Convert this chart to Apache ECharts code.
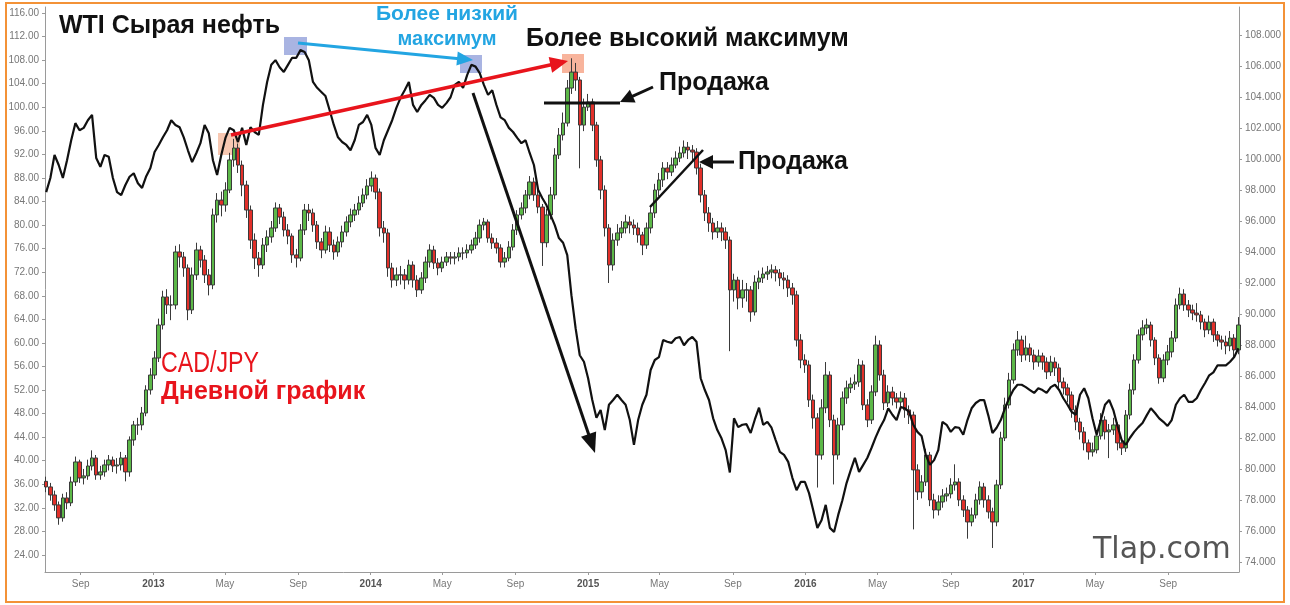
<!DOCTYPE html>
<html>
<head>
<meta charset="utf-8">
<script src="https://cdn.jsdelivr.net/npm/echarts@6/dist/echarts.min.js"></script>
<style>
html,body{margin:0;padding:0;background:#fff;}
#chart{width:1290px;height:605px;}
</style>
</head>
<body>
<div id="chart"></div>
<script>
// ---- DATA (weekly samples starting 2012-07-05) ----
const weekStart = [2012, 6, 5];

// WTI crude (left axis, USD)
const wtiOil = [
85.6, 88.0, 91.9, 90.2, 88.0, 91.0, 94.4, 97.3, 96.1, 96.5,
97.8, 98.7, 91.4, 89.9, 91.9, 91.6, 88.0, 85.6, 85.1, 86.8,
88.2, 88.8, 87.1, 86.3, 88.3, 89.7, 92.4, 93.6, 94.9, 96.1,
97.8, 97.0, 96.6, 94.9, 92.7, 90.7, 92.2, 93.9, 97.0, 95.6,
91.0, 88.5, 91.9, 94.8, 96.5, 96.1, 94.1, 96.5, 93.6, 96.6,
95.8, 95.3, 100.4, 104.3, 107.2, 108.0, 106.8, 106.0, 107.2, 108.4,
108.4, 109.7, 109.4, 108.0, 104.3, 103.3, 102.6, 101.9, 99.5, 97.0,
94.9, 94.1, 93.6, 92.7, 94.4, 97.0, 97.5, 98.7, 97.0, 93.1,
91.9, 94.4, 96.1, 97.8, 99.9, 101.6, 102.9, 104.3, 100.4, 99.2,
100.4, 101.2, 102.1, 101.6, 100.4, 99.9, 100.7, 101.7, 103.8, 104.3,
103.3, 105.5, 107.2, 106.9, 105.8, 103.8, 102.1, 102.9, 100.4, 98.3,
97.8, 96.5, 95.8, 94.8, 93.9, 94.4, 92.2, 90.2, 86.0, 84.6,
83.4, 81.7, 80.0, 77.8, 77.0, 74.9, 68.1, 62.5, 57.9, 56.8,
54.0, 50.3, 47.3, 48.6, 45.2, 49.5, 50.3, 51.2, 50.3, 49.5,
46.9, 42.7, 46.9, 49.5, 51.2, 55.4, 57.1, 57.6, 60.5, 60.2,
60.0, 60.8, 61.0, 59.6, 60.5, 61.0, 60.2, 54.0, 52.0, 50.3,
47.2, 45.2, 43.8, 41.8, 38.0, 47.2, 45.7, 46.1, 46.2, 44.7,
47.0, 49.0, 46.1, 46.6, 45.6, 43.5, 41.5, 41.0, 39.8, 37.1,
35.0, 36.4, 36.4, 34.5, 31.6, 28.6, 29.9, 32.5, 28.6, 27.9,
30.8, 33.3, 36.2, 38.4, 40.5, 38.1, 39.3, 40.5, 42.2, 44.0,
45.6, 46.9, 48.9, 47.8, 46.9, 49.1, 48.9, 48.3, 46.1, 44.9,
44.2, 41.0, 39.3, 40.1, 41.8, 46.6, 46.1, 44.9, 45.7, 45.6,
44.4, 46.9, 48.9, 49.8, 50.3, 50.3, 47.7, 44.7, 45.6, 46.9,
48.9, 50.6, 52.0, 52.9, 52.9, 52.5, 52.0, 51.5, 52.3, 52.0,
51.5, 52.5, 52.9, 52.0, 50.6, 49.5, 48.3, 47.8, 51.2, 52.3,
50.6, 47.2, 44.4, 46.9, 49.5, 50.3, 48.6, 45.9, 43.5, 42.7,
43.9, 44.9, 45.7, 46.4, 47.7, 48.9, 48.1, 47.2, 46.6, 45.9,
46.9, 49.5, 50.6, 51.2, 50.0, 50.0, 50.6, 52.0, 53.2, 54.5,
55.0, 56.2, 56.2, 56.2, 56.8, 57.6, 59.1
];

// CAD/JPY (right axis): [open, close, low, high]
const cadJpy = [
[79.20,78.84,78.50,79.50],[78.84,78.32,77.95,79.10],[78.32,77.68,77.30,78.60],[77.68,76.84,76.40,77.90],[76.84,78.13,76.60,78.40],
[78.13,77.81,77.40,78.50],[77.81,79.16,77.60,79.50],[79.16,80.45,78.90,80.80],[80.45,79.42,79.10,80.60],[79.42,79.55,79.00,80.00],
[79.55,80.19,79.30,80.60],[80.19,80.71,79.90,81.20],[80.71,79.61,79.30,80.90],[79.61,79.81,79.30,80.20],[79.81,80.26,79.50,80.60],
[80.26,80.58,79.90,80.90],[80.58,80.19,79.80,80.80],[80.19,80.26,79.70,80.70],[80.26,80.71,79.90,81.10],[80.71,79.81,79.20,80.90],
[79.81,81.87,79.50,82.10],[81.87,82.84,81.50,83.10],[82.84,82.84,82.20,83.30],[82.84,83.61,82.50,84.00],[83.61,85.10,83.40,85.40],
[85.10,86.06,84.80,86.50],[86.06,87.16,85.80,87.60],[87.16,89.29,86.90,89.70],[89.29,91.10,89.00,91.50],[91.10,90.58,90.00,91.60],
[90.58,90.58,89.60,91.20],[90.58,94.00,90.30,94.40],[94.00,93.68,93.00,94.50],[93.68,92.97,92.40,94.00],[92.97,90.26,89.60,93.20],
[90.26,92.52,90.00,93.00],[92.52,94.13,92.20,94.60],[94.13,93.48,93.00,94.40],[93.48,92.52,92.00,93.80],[92.52,91.87,91.20,92.90],
[91.87,96.39,91.60,96.80],[96.39,97.35,95.90,97.80],[97.35,97.03,96.30,97.90],[97.03,98.00,96.60,98.50],[98.00,99.94,97.80,100.40],
[99.94,100.71,99.50,101.30],[100.71,99.61,99.10,101.00],[99.61,98.32,97.60,99.90],[98.32,96.71,96.20,98.60],[96.71,94.77,94.20,97.00],
[94.77,93.61,92.90,95.20],[93.61,93.16,92.40,94.00],[93.16,94.45,92.90,94.90],[94.45,94.97,94.00,95.40],[94.97,95.55,94.60,96.00],
[95.55,96.84,95.30,97.20],[96.84,96.26,95.80,97.10],[96.26,95.42,95.00,96.60],[95.42,95.03,94.50,95.80],[95.03,93.81,93.30,95.20],
[93.81,93.61,93.00,94.20],[93.61,95.42,93.40,95.80],[95.42,96.71,95.10,97.10],[96.71,96.52,96.00,97.10],[96.52,95.74,95.30,96.80],
[95.74,94.65,94.20,96.00],[94.65,94.13,93.60,94.90],[94.13,95.29,93.90,95.70],[95.29,94.45,94.00,95.60],[94.45,94.00,93.50,94.80],
[94.00,94.65,93.70,95.00],[94.65,95.29,94.30,95.70],[95.29,95.94,95.00,96.30],[95.94,96.39,95.60,96.80],[96.39,96.71,96.00,97.10],
[96.71,97.16,96.40,97.60],[97.16,97.68,96.90,98.10],[97.68,98.26,97.40,98.70],[98.26,98.77,97.90,99.20],[98.77,97.87,97.40,99.00],
[97.87,95.55,95.00,98.10],[95.55,95.23,94.60,96.00],[95.23,92.97,92.40,95.50],[92.97,92.19,91.70,93.30],[92.19,92.52,91.80,93.00],
[92.52,92.52,91.90,93.10],[92.52,92.19,91.60,92.90],[92.19,93.16,91.90,93.50],[93.16,92.19,91.70,93.40],[92.19,91.55,91.10,92.50],
[91.55,92.32,91.30,92.70],[92.32,93.35,92.00,93.70],[93.35,94.13,93.00,94.50],[94.13,93.29,92.90,94.40],[93.29,92.97,92.50,93.60],
[92.97,93.35,92.70,93.70],[93.35,93.68,93.10,94.00],[93.68,93.61,93.20,94.00],[93.61,93.68,93.20,94.00],[93.68,93.94,93.40,94.30],
[93.94,93.94,93.50,94.30],[93.94,94.13,93.60,94.50],[94.13,94.45,93.90,94.80],[94.45,94.90,94.20,95.30],[94.90,95.74,94.60,96.10],
[95.74,95.94,95.40,96.20],[95.94,94.90,94.60,96.10],[94.90,94.58,94.20,95.20],[94.58,94.26,93.90,94.90],[94.26,93.35,93.00,94.50],
[93.35,93.61,93.00,94.00],[93.61,94.32,93.40,94.70],[94.32,95.42,94.10,95.80],[95.42,96.39,95.10,96.70],[96.39,96.84,96.10,97.20],
[96.84,97.68,96.50,98.00],[97.68,98.52,97.40,98.90],[98.52,97.68,97.30,98.80],[97.68,96.90,96.50,98.00],[96.90,94.60,93.10,97.10],
[94.60,96.39,94.30,96.80],[96.39,97.68,96.10,98.20],[97.68,100.26,97.40,100.70],[100.26,101.55,100.00,102.00],[101.55,102.32,101.20,103.00],
[102.32,104.58,102.10,105.10],[104.58,105.61,104.20,106.50],[105.61,105.10,104.40,106.20],[105.10,102.19,99.40,105.30],[102.19,103.35,101.80,103.90],
[103.35,103.68,103.10,104.20],[103.68,102.19,101.80,103.90],[102.19,99.94,99.50,102.40],[99.94,98.00,97.40,100.20],[98.00,95.55,95.00,98.30],
[95.55,93.16,92.00,95.80],[93.16,94.77,92.80,95.20],[94.77,95.23,94.40,95.80],[95.23,95.55,94.90,96.00],[95.55,95.94,95.20,96.40],
[95.94,95.74,95.20,96.30],[95.74,95.55,95.10,96.10],[95.55,95.10,94.60,95.90],[95.10,94.45,93.80,95.30],[94.45,95.55,94.20,95.90],
[95.55,96.52,95.20,96.90],[96.52,98.00,96.20,98.40],[98.00,98.65,97.60,99.10],[98.65,99.42,98.20,99.80],[99.42,99.16,98.70,99.80],
[99.16,99.61,98.90,100.10],[99.61,100.06,99.40,100.50],[100.06,100.39,99.80,100.80],[100.39,100.77,100.10,101.20],[100.77,100.58,100.00,101.10],
[100.58,100.45,99.90,100.90],[100.45,99.42,99.00,100.70],[99.42,97.68,97.20,99.70],[97.68,96.52,96.00,98.00],[96.52,95.87,95.30,96.90],
[95.87,95.29,94.80,96.20],[95.29,95.55,94.90,96.00],[95.55,95.29,94.70,95.90],[95.29,94.77,94.20,95.60],[94.77,91.55,87.60,95.00],
[91.55,92.19,90.80,92.60],[92.19,91.03,90.30,92.40],[91.03,91.55,90.40,92.20],[91.55,91.55,90.80,92.00],[91.55,90.13,89.50,91.80],
[90.13,92.06,89.90,92.50],[92.06,92.32,91.60,92.80],[92.32,92.58,92.00,93.00],[92.58,92.71,92.20,93.10],[92.71,92.84,92.30,93.20],
[92.84,92.65,92.10,93.10],[92.65,92.32,91.80,92.90],[92.32,92.19,91.60,92.70],[92.19,91.68,91.10,92.50],[91.68,91.23,90.60,92.00],
[91.23,88.32,87.90,91.50],[88.32,87.03,86.50,88.70],[87.03,86.71,86.20,87.40],[86.71,84.45,84.00,87.00],[84.45,83.29,82.60,84.80],
[83.29,80.90,78.80,83.60],[80.90,83.94,80.60,84.50],[83.94,86.06,83.60,86.90],[86.06,83.16,82.70,86.30],[83.16,80.90,79.00,83.50],
[80.90,82.84,80.60,83.30],[82.84,84.58,82.50,85.00],[84.58,85.23,84.20,85.70],[85.23,85.48,84.90,85.90],[85.48,85.61,85.10,86.10],
[85.61,86.71,85.30,87.10],[86.71,84.13,83.80,87.00],[84.13,83.16,82.70,84.50],[83.16,84.97,82.90,85.40],[84.97,88.00,84.70,88.60],
[88.00,86.06,85.70,88.30],[86.06,84.26,83.80,86.40],[84.26,84.97,84.00,85.40],[84.97,84.58,84.10,85.30],[84.58,84.32,83.90,84.90],
[84.32,84.58,84.00,85.00],[84.58,83.81,83.30,84.90],[83.81,83.48,82.90,84.10],[83.48,79.94,76.10,83.70],[79.94,78.52,78.00,80.30],
[78.52,79.16,78.10,79.60],[79.16,80.90,78.90,81.30],[80.90,78.00,77.60,81.10],[78.00,77.35,76.80,78.40],[77.35,77.87,77.00,78.30],
[77.87,78.26,77.50,78.70],[78.26,78.39,77.90,78.80],[78.39,78.97,78.10,79.40],[78.97,79.16,78.60,80.30],[79.16,78.00,77.60,79.40],
[78.00,77.35,76.90,78.30],[77.35,76.58,75.50,77.60],[76.58,77.03,76.30,77.50],[77.03,78.00,76.80,78.40],[78.00,78.84,77.70,79.20],
[78.84,78.00,77.50,79.10],[78.00,77.23,76.80,78.30],[77.23,76.58,74.90,77.50],[76.58,78.97,76.30,79.30],[78.97,82.00,78.70,82.40],
[82.00,84.13,81.80,84.60],[84.13,85.74,83.90,86.20],[85.74,87.68,85.50,88.10],[87.68,88.32,87.30,88.90],[88.32,87.35,86.90,88.60],
[87.35,87.81,87.00,88.60],[87.81,87.35,86.90,88.10],[87.35,86.90,86.40,87.70],[86.90,87.29,86.60,87.70],[87.29,86.90,86.40,87.50],
[86.90,86.26,85.80,87.20],[86.26,86.90,86.00,87.30],[86.90,86.52,86.00,87.20],[86.52,85.61,85.10,86.80],[85.61,85.23,84.80,85.90],
[85.23,84.77,84.30,85.50],[84.77,83.81,83.30,85.00],[83.81,83.03,82.50,84.10],[83.03,82.39,81.90,83.30],[82.39,81.68,81.20,82.70],
[81.68,81.10,80.60,81.90],[81.10,81.23,80.80,81.70],[81.23,82.13,81.00,82.50],[82.13,83.16,81.90,83.60],[83.16,82.39,81.90,83.40],
[82.39,82.52,80.70,82.90],[82.52,82.84,82.20,83.30],[82.84,81.68,81.20,83.00],[81.68,81.35,80.90,81.90],[81.35,83.48,81.10,83.80],
[83.48,85.10,83.20,85.50],[85.10,87.03,84.80,87.40],[87.03,88.65,86.80,89.00],[88.65,89.10,88.30,89.60],[89.10,89.29,88.70,89.70],
[89.29,88.32,87.90,89.50],[88.32,87.16,86.70,88.50],[87.16,85.87,85.50,87.40],[85.87,87.03,85.60,87.40],[87.03,87.55,86.70,88.00],
[87.55,88.45,87.20,88.90],[88.45,90.58,88.20,91.00],[90.58,91.29,90.30,91.70],[91.29,90.58,90.20,91.60],[90.58,90.26,89.80,90.90],
[90.26,90.06,89.60,90.60],[90.06,89.94,89.50,90.70],[89.94,89.48,89.00,90.20],[89.48,88.97,88.50,89.70],[88.97,89.48,88.70,89.90],
[89.48,88.65,88.20,89.70],[88.65,88.32,87.90,88.90],[88.32,88.19,87.70,88.60],[88.19,87.94,87.40,88.60],[87.94,88.45,87.60,88.90],
[88.45,87.68,87.20,88.70],[87.68,89.29,87.40,89.80]
];

const leftTicks = [24,28,32,36,40,44,48,52,56,60,64,68,72,76,80,84,88,92,96,100,104,108,112,116];
const rightTicks = [74,76,78,80,82,84,86,88,90,92,94,96,98,100,102,104,106,108];
const xTickDates = [[2012,8,1],[2013,0,1],[2013,4,1],[2013,8,1],[2014,0,1],[2014,4,1],[2014,8,1],[2015,0,1],[2015,4,1],[2015,8,1],[2016,0,1],[2016,4,1],[2016,8,1],[2017,0,1],[2017,4,1],[2017,8,1]];
const xTickLabels = ['Sep','2013','May','Sep','2014','May','Sep','2015','May','Sep','2016','May','Sep','2017','May','Sep'];

// ---- BUILD ----
const DAY = 86400000;
const t0 = Date.UTC(weekStart[0], weekStart[1], weekStart[2]);
const dateOf = i => t0 + i * 7 * DAY;
const wtiData = wtiOil.map((v, i) => [dateOf(i), v]);
const cadData = cadJpy.map((r, i) => [dateOf(i), r[0], r[1], r[2], r[3]]);
const xTickVals = xTickDates.map(d => Date.UTC(d[0], d[1], d[2]));
const labelMap = {};
xTickVals.forEach((v, i) => labelMap[v] = xTickLabels[i]);

const chart = echarts.init(document.getElementById('chart'), null, {renderer: 'canvas'});
const FONT = '"Liberation Sans", Arial, sans-serif';

function arrowHead(tip, tail, len, half, color) {
  const dx = tip[0] - tail[0], dy = tip[1] - tail[1];
  const L = Math.sqrt(dx*dx + dy*dy), ux = dx/L, uy = dy/L;
  const bx = tip[0] - ux*len, by = tip[1] - uy*len;
  return {type:'polygon', z:100, shape:{points:[tip, [bx - uy*half, by + ux*half], [bx + uy*half, by - ux*half]]}, style:{fill:color}};
}
function arrowLine(tail, tip, len, color, w) {
  const dx = tip[0] - tail[0], dy = tip[1] - tail[1];
  const L = Math.sqrt(dx*dx + dy*dy);
  const end = [tip[0] - dx/L*(len*0.7), tip[1] - dy/L*(len*0.7)];
  return {type:'line', z:100, shape:{x1:tail[0], y1:tail[1], x2:end[0], y2:end[1]}, style:{stroke:color, lineWidth:w}};
}
function txt(text, x, y, font, fill, align, sx) {
  const el = {type:'text', z:100, x:x, y:y, style:{text:text, font:font, fill:fill, align:align || 'left', verticalAlign:'middle'}};
  if (sx) { el.scaleX = sx; }
  return el;
}

const BLUE = '#23a5e2', RED = '#e8141c';

const option = {
  animation: false,
  backgroundColor: '#ffffff',
  grid: {left: 45, right: 51, top: 7, bottom: 33, containLabel: false},
  xAxis: {
    type: 'value',
    min: Date.UTC(2012, 6, 3),
    max: Date.UTC(2017, 11, 29),
    axisLine: {show: true, lineStyle: {color: '#9a9a9a', width: 1}},
    axisTick: {show: true, length: 3, customValues: xTickVals, lineStyle: {color: '#9a9a9a'}},
    splitLine: {show: false},
    axisLabel: {
      customValues: xTickVals,
      margin: 7,
      fontSize: 10,
      fontFamily: FONT,
      color: '#777',
      formatter: function (v) {
        const lab = labelMap[v] || '';
        return /^\d+$/.test(lab) ? '{y|' + lab + '}' : lab;
      },
      rich: {y: {fontWeight: 'bold', color: '#555', fontSize: 10, fontFamily: FONT}}
    }
  },
  yAxis: [
    {
      type: 'value', position: 'left', min: 21.11, max: 117.02,
      axisLine: {show: true, lineStyle: {color: '#9a9a9a'}},
      axisTick: {show: true, length: 3, customValues: leftTicks, lineStyle: {color: '#9a9a9a'}},
      splitLine: {show: false},
      axisLabel: {customValues: leftTicks, formatter: v => v.toFixed(2), fontSize: 10, fontFamily: FONT, color: '#777', margin: 6}
    },
    {
      type: 'value', position: 'right', min: 73.35, max: 109.81,
      axisLine: {show: true, lineStyle: {color: '#9a9a9a'}},
      axisTick: {show: true, length: 3, customValues: rightTicks, lineStyle: {color: '#9a9a9a'}},
      splitLine: {show: false},
      axisLabel: {customValues: rightTicks, formatter: v => v.toFixed(3), fontSize: 10, fontFamily: FONT, color: '#777', margin: 6}
    }
  ],
  series: [
    {
      name: 'CAD/JPY', type: 'candlestick', yAxisIndex: 1, data: cadData,
      barWidth: 4, z: 2,
      itemStyle: {color: '#5cb848', color0: '#e2302a', borderColor: '#3a3a3a', borderColor0: '#3a3a3a', borderWidth: 1}
    },
    {
      name: 'WTI', type: 'line', yAxisIndex: 0, data: wtiData,
      showSymbol: false, symbol: 'none', z: 3,
      lineStyle: {color: '#111', width: 2.2}
    }
  ],
  graphic: [
    {type:'rect', z:0, shape:{x:6, y:3, width:1278, height:599}, style:{fill:'none', stroke:'#f39237', lineWidth:2}},
    {type:'rect', z:0, shape:{x:284, y:37, width:23, height:18}, style:{fill:'#a9b4e2'}},
    {type:'rect', z:0, shape:{x:460, y:55, width:22, height:18}, style:{fill:'#a9b4e2'}},
    {type:'rect', z:0, shape:{x:218, y:133, width:22, height:22}, style:{fill:'#f8c8b2'}},
    {type:'rect', z:0, shape:{x:562, y:54, width:22, height:19}, style:{fill:'#f8b49c'}},
    arrowLine([298,43], [473,60], 16, BLUE, 3),
    arrowHead([473,60], [298,43], 16, 7, BLUE),
    arrowLine([231,135], [568,61], 18, RED, 3.5),
    arrowHead([568,61], [231,135], 18, 8, RED),
    arrowLine([473,93], [595,453], 20, '#111', 3),
    arrowHead([595,453], [473,93], 20, 8, '#111'),
    {type:'line', z:100, shape:{x1:544, y1:103, x2:620, y2:103}, style:{stroke:'#111', lineWidth:3}},
    arrowLine([653,87], [620,102], 14, '#111', 3),
    arrowHead([620,102], [653,87], 14, 7, '#111'),
    {type:'line', z:100, shape:{x1:650, y1:207, x2:703, y2:150}, style:{stroke:'#111', lineWidth:2.5}},
    arrowLine([734,162], [699,162], 14, '#111', 3),
    arrowHead([699,162], [734,162], 14, 7, '#111'),
    txt('WTI Сырая нефть', 59, 26, 'bold 25px ' + FONT, '#111'),
    txt('Более низкий', 447, 14, 'bold 21px ' + FONT, BLUE, 'center'),
    txt('максимум', 447, 39, 'bold 20px ' + FONT, BLUE, 'center'),
    txt('Более высокий максимум', 526, 39, 'bold 25px ' + FONT, '#111'),
    txt('Продажа', 659, 83, 'bold 25px ' + FONT, '#111'),
    txt('Продажа', 738, 162, 'bold 25px ' + FONT, '#111'),
    txt('CAD/JPY', 161, 364, '29px ' + FONT, RED, 'left', 0.8),
    txt('Дневной график', 161, 392, 'bold 25px ' + FONT, RED),
    txt('Tlap.com', 1093, 550, '30px "DejaVu Sans", sans-serif', '#555')
  ]
};
chart.setOption(option);
</script>
</body>
</html>
